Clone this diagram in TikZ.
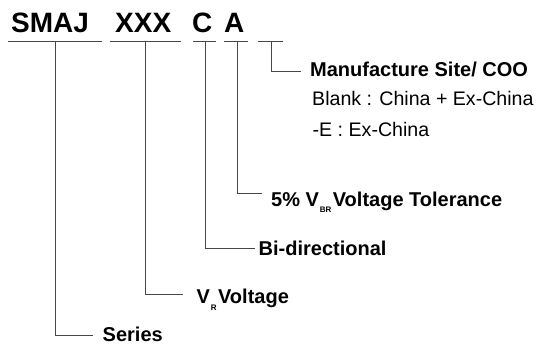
\documentclass[tikz,border=0pt]{standalone}
\usepackage{fontspec}
\setmainfont{Liberation Sans}
\begin{document}
\begin{tikzpicture}[x=1pt,y=-1pt,
  conn/.style={draw=black!72,line width=0.9pt},
  big/.style={inner sep=0pt,anchor=base west,font=\fontsize{28}{30}\selectfont\bfseries},
  lbl/.style={inner sep=0pt,anchor=base west,font=\fontsize{20}{22}\selectfont\bfseries},
  note/.style={inner sep=0pt,anchor=base west,font=\fontsize{19.6}{22}\selectfont}]
\useasboundingbox (0,0) rectangle (538,349);
\newcommand{\subtxt}[1]{\raisebox{-6.8pt}{\fontsize{8}{8}\selectfont\bfseries #1}}
% part number
\node[big] (smaj) at (11,32.7) {SMAJ};
\node[big] (xxx) at (115,32.7) {XXX};
\node[big] (c) at (192,32.7) {C};
\node[big] (a) at (224,32.7) {A};
% underlines
\coordinate (l1a) at (8,41.7);   \coordinate (l1b) at (102,41.7);
\coordinate (l2a) at (110,41.7); \coordinate (l2b) at (181,41.7);
\coordinate (l3a) at (193,41.7); \coordinate (l3b) at (216,41.7);
\coordinate (l4a) at (224,41.7); \coordinate (l4b) at (248,41.7);
\coordinate (l5a) at (258,41.7); \coordinate (l5b) at (283,41.7);
\draw[conn] (l1a) -- (l1b);
\draw[conn] (l2a) -- (l2b);
\draw[conn] (l3a) -- (l3b);
\draw[conn] (l4a) -- (l4b);
\draw[conn] (l5a) -- (l5b);
% taps on underlines
\coordinate (u1) at (55,41.7);
\coordinate (u2) at (145.5,41.7);
\coordinate (u3) at (205,41.7);
\coordinate (u4) at (237,41.7);
\coordinate (u5) at (271,41.7);
% labels
\node[lbl] (site) at (310,76.7) {Manufacture Site/ COO};
\node[note] (blank) at (312,105.7) {Blank : China + Ex-China};
\node[note] (exc) at (312.5,136.7) {-E : Ex-China};
\node[lbl] (tol) at (271,206) {5\% V\kern0.8pt\subtxt{BR}\kern1.5pt Voltage Tolerance};
\node[lbl] (bidir) at (258.5,255) {Bi-directional};
\node[lbl] (vr) at (196.5,303.5) {V\kern0.8pt\subtxt{R}\kern1.5pt Voltage};
\node[lbl] (series) at (102.5,341.7) {Series};
% connector ends
\coordinate (e5) at (301,71);
\coordinate (e4) at (262,193);
\coordinate (e3) at (255,248);
\coordinate (e2) at (183,294.5);
\coordinate (e1) at (93,335);
\draw[conn] (u5) |- (e5);
\draw[conn] (u4) |- (e4);
\draw[conn] (u3) |- (e3);
\draw[conn] (u2) |- (e2);
\draw[conn] (u1) |- (e1);
\end{tikzpicture}
\end{document}
